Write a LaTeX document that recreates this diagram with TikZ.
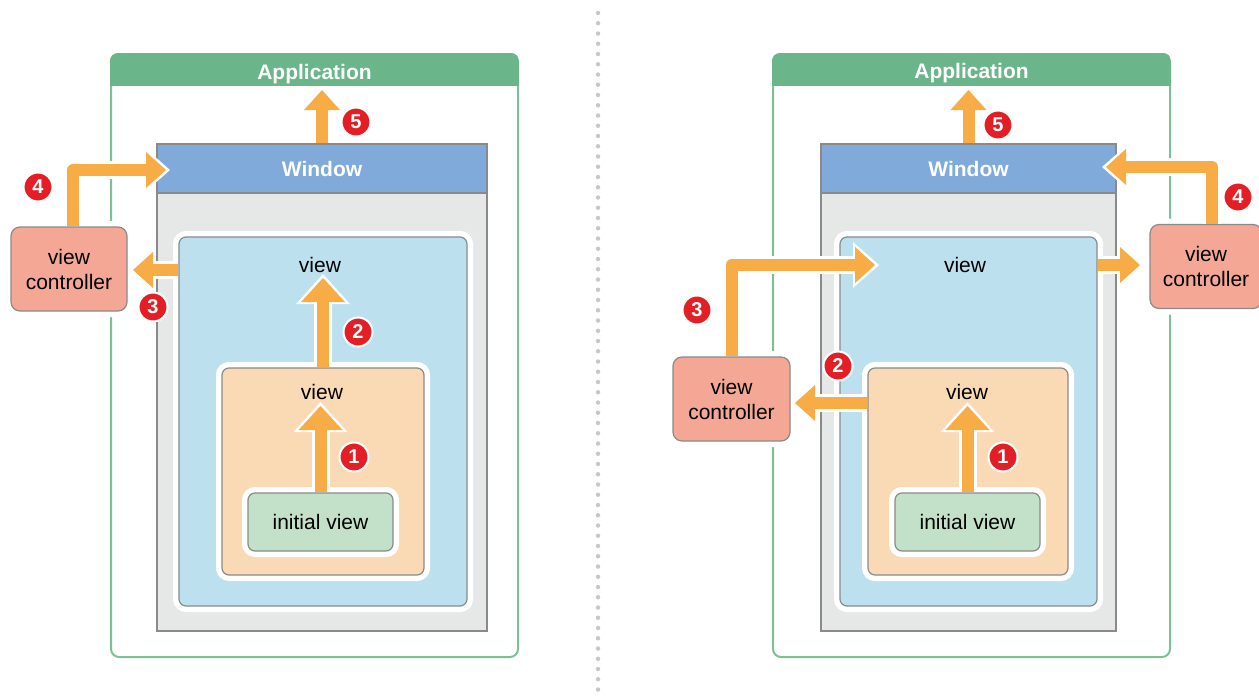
\documentclass[tikz,border=0pt]{standalone}
\usepackage{fontspec}
\setmainfont{Liberation Sans}
\usetikzlibrary{positioning,calc,arrows.meta}
\definecolor{appgreen}{RGB}{107,181,138}
\definecolor{appline}{RGB}{125,192,152}
\definecolor{winblue}{RGB}{127,170,217}
\definecolor{wingray}{RGB}{230,232,231}
\definecolor{boxline}{RGB}{138,138,138}
\definecolor{viewblue}{RGB}{188,224,238}
\definecolor{vieworange}{RGB}{250,217,181}
\definecolor{viewgreen}{RGB}{195,225,200}
\definecolor{ctlred}{RGB}{243,167,148}
\definecolor{flowc}{RGB}{247,172,69}
\definecolor{badgered}{RGB}{227,30,37}
\definecolor{dotgray}{RGB}{200,200,200}
\tikzset{txt/.style={font=\fontsize{21}{25}\selectfont, inner sep=2pt, align=center}}
\tikzset{hdr/.style={txt, font=\fontsize{21}{25}\selectfont\bfseries, text=white}}
\tikzset{appbox/.style={draw=appline, line width=2pt, rounded corners=8pt, inner sep=0pt}}
\tikzset{winbox/.style={draw=boxline, line width=1.5pt, fill=wingray, inner sep=0pt}}
\tikzset{winhead/.style={hdr, fill=winblue, draw=boxline, line width=1.5pt, inner sep=0pt}}
\tikzset{vbox/.style={draw=boxline, line width=1.2pt, rounded corners=7pt, inner sep=0pt, preaction={draw=white, line width=12pt}}}
\tikzset{ctl/.style={vbox, txt, fill=ctlred, rounded corners=9pt}}
\tikzset{badge/.style={circle, fill=badgered, draw=white, line width=2pt, inner sep=0pt, minimum size=29pt, text=white, font=\fontsize{20}{20}\selectfont\bfseries}}
\tikzset{flow/.style n args={4}{draw=flowc, line width=12pt, line join=round, -{Triangle[width=#1, length=#2, line width=0pt]}, preaction={draw=white, line width=18pt, -{Triangle[width=#3, length=#4, line width=0pt]}, shorten >=-4pt}}}
\tikzset{arr/.style={flow={36pt}{20pt}{46pt}{26pt}}}
\tikzset{arrb/.style={flow={44pt}{24pt}{54pt}{30pt}}}
\begin{document}
\begin{tikzpicture}[x=1pt, y=-1pt]
	\useasboundingbox (0,0) rectangle (1259,696);
	%
	% left: the view controller sits outside the window
	\node[appbox, minimum width=407pt, minimum height=603pt] (appL) at (314.5,355.5) {};
	\begin{scope}
		\clip[rounded corners=8pt] (appL.north west) rectangle (appL.south east);
		\fill[appgreen] (appL.north west) rectangle ([yshift=-33pt]appL.north east);
	\end{scope}
	\node[hdr] (tappL) at ([yshift=-21pt]appL.north) {Application};
	\node[winbox, minimum width=330pt, minimum height=487pt] (winL) at (322,387.5) {};
	\node[winhead, minimum width=330pt, minimum height=49pt, anchor=north] (whL) at (winL.north) {Window};
	\node[vbox, fill=viewblue, minimum width=288pt, minimum height=369pt] (vL) at (323,421.5) {};
	\node[txt] (tvL) at (320,265) {view};
	\node[vbox, fill=vieworange, minimum width=202pt, minimum height=207pt] (oL) at (323,471.5) {};
	\node[txt] (toL) at (322,392) {view};
	\node[vbox, txt, fill=viewgreen, minimum width=145pt, minimum height=58pt] (iL) at (320.5,522) {initial view};
	\node[ctl, minimum width=116pt, minimum height=84pt] (cL) at (69,269) {view\\controller};
	%
	\coordinate (e1L) at (320.5,406);
	\coordinate (e2L) at (323,278);
	\coordinate (e3L) at (133,270);
	\coordinate (e4L) at (166,170);
	\coordinate (e5L) at (322,90);
	\draw[arrb] (iL) -- (e1L);
	\draw[arrb] (oL) -- (e2L);
	\draw[arr] (vL.west |- e3L) -- (e3L);
	\draw[arr] ([xshift=4pt]cL.north) |- (e4L);
	\draw[arr] (winL.north) -- (e5L);
	%
	\node[badge] (b1L) at (354,457) {1};
	\node[badge] (b2L) at (358,332) {2};
	\node[badge] (b3L) at (153,307) {3};
	\node[badge] (b4L) at (38,187) {4};
	\node[badge] (b5L) at (356,122) {5};
	%
	\draw[dotgray, line width=4.5pt, line cap=round, dash pattern=on 0pt off 10.25pt] (598,13) -- (598,696);
	%
	% right: view controllers on both sides
	\node[appbox, minimum width=397pt, minimum height=603pt] (appR) at (971.5,355.5) {};
	\begin{scope}
		\clip[rounded corners=8pt] (appR.north west) rectangle (appR.south east);
		\fill[appgreen] (appR.north west) rectangle ([yshift=-33pt]appR.north east);
	\end{scope}
	\node[hdr] (tappR) at ([yshift=-20pt]appR.north) {Application};
	\node[winbox, minimum width=295pt, minimum height=487pt] (winR) at (968.5,387.5) {};
	\node[winhead, minimum width=295pt, minimum height=49pt, anchor=north] (whR) at (winR.north) {Window};
	\node[vbox, fill=viewblue, minimum width=257pt, minimum height=369pt] (vR) at (968.5,421.5) {};
	\node[txt] (tvR) at (965,265) {view};
	\node[vbox, fill=vieworange, minimum width=200pt, minimum height=207pt] (oR) at (968,471.5) {};
	\node[txt] (toR) at (967,392) {view};
	\node[vbox, txt, fill=viewgreen, minimum width=145pt, minimum height=58pt] (iR) at (967.5,522) {initial view};
	\node[ctl, minimum width=117pt, minimum height=84pt] (cR) at (731.5,399) {view\\controller};
	\node[ctl, minimum width=112pt, minimum height=84pt] (cS) at (1206,266.5) {view\\controller};
	%
	\coordinate (e1R) at (967.5,406);
	\coordinate (e2R) at (795,403);
	\coordinate (e3R) at (875,265);
	\coordinate (e4R) at (1106,167);
	\coordinate (e5R) at (968.5,90);
	\coordinate (e6R) at (1140,265);
	\draw[arrb] (iR) -- (e1R);
	\draw[arr] (oR.west |- e2R) -- (e2R);
	\draw[arr] (cR.north) |- (e3R);
	\draw[arr] ([xshift=6pt]cS.north) |- (e4R);
	\draw[arr] (winR.north) -- (e5R);
	\draw[arr] (vR.east |- e6R) -- (e6R);
	%
	\node[badge] (b1R) at (1003,457) {1};
	\node[badge] (b2R) at (838,366) {2};
	\node[badge] (b3R) at (697,310) {3};
	\node[badge] (b4R) at (1238,197) {4};
	\node[badge] (b5R) at (998,125) {5};
\end{tikzpicture}
\end{document}
